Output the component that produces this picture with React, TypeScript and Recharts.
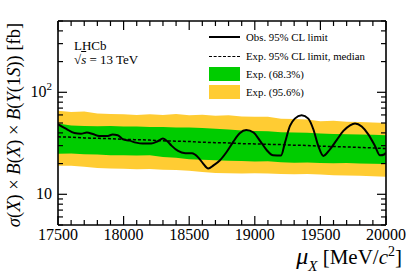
import React from 'react';
import { ComposedChart, Area, Line, XAxis, YAxis } from 'recharts';

const obsMass = [
  17500, 17560, 17625, 17675, 17720, 17765, 17815, 17880, 17915, 17955,
  17995, 18045, 18095, 18145, 18210, 18260, 18300, 18335, 18365, 18415,
  18470, 18520, 18570, 18605, 18645, 18685, 18735, 18785, 18835, 18885,
  18935, 18990, 19040, 19090, 19140, 19200, 19230, 19268, 19305, 19357,
  19408, 19446, 19484, 19522, 19573, 19624, 19675, 19726, 19764, 19815,
  19865, 19916, 19954, 19990, 20000,
];
const obsLimit = [
  48.6, 44.0, 39.8, 39.3, 40.3, 39.0, 37.3, 37.3, 38.5, 38.0,
  34.6, 33.6, 32.1, 31.4, 31.4, 33.1, 35.2, 33.0, 30.0, 26.6,
  25.3, 25.2, 22.9, 20.1, 17.9, 19.2, 21.6, 26.0, 32.6, 39.7,
  42.7, 40.3, 33.4, 27.2, 24.1, 24.0, 32.1, 46.8, 55.2, 59.5,
  55.2, 43.4, 29.8, 23.8, 27.6, 34.0, 41.8, 47.5, 49.4, 46.1,
  38.7, 29.8, 24.1, 24.7, 25.6,
];

// expected limit and its bands
const bandMass = [
  17500, 17600, 17700, 17800, 17900, 18000, 18100, 18200, 18300, 18400,
  18500, 18600, 18700, 18800, 18900, 19000, 19100, 19200, 19300, 19400,
  19500, 19600, 19700, 19800, 19900, 20000,
];
const expMedian = [
  36.6, 36.3, 35.7, 35.4, 35.1, 34.6, 34.3, 34.0, 33.4, 33.2,
  32.9, 32.4, 32.1, 31.9, 31.4, 31.2, 30.9, 30.7, 30.3, 30.1,
  29.6, 29.4, 29.1, 28.8, 28.5, 28.0,
];
const green68Lo = [
  25.0, 25.1, 24.7, 24.6, 24.2, 24.1, 24.0, 24.1, 23.2, 22.8,
  22.1, 21.8, 21.6, 21.3, 21.2, 21.0, 21.1, 20.6, 20.4, 20.5,
  20.3, 20.2, 20.3, 20.0, 19.9, 19.8,
];
const green68Hi = [
  49.5, 47.2, 46.8, 46.4, 46.7, 46.3, 46.1, 45.8, 45.6, 45.1,
  45.2, 44.6, 43.9, 43.2, 42.1, 41.8, 41.6, 40.5, 40.4, 40.1,
  39.4, 39.1, 38.8, 38.5, 38.3, 38.0,
];
const yellow95Lo = [
  19.0, 19.1, 18.6, 18.1, 17.9, 17.8, 17.6, 17.7, 17.4, 17.3,
  17.0, 16.5, 16.2, 16.1, 16.0, 16.1, 16.0, 15.8, 15.7, 15.8,
  15.6, 15.4, 15.3, 15.2, 15.0, 14.9,
];
const yellow95Hi = [
  66.0, 64.0, 65.0, 62.0, 61.2, 60.8, 60.0, 61.0, 60.0, 61.2,
  59.5, 60.1, 59.0, 59.6, 58.0, 57.5, 57.6, 55.0, 54.6, 54.0,
  52.0, 52.6, 51.5, 51.0, 50.6, 50.0,
];

const massTicks = [
  17500, 17600, 17700, 17800, 17900, 18000, 18100, 18200, 18300, 18400,
  18500, 18600, 18700, 18800, 18900, 19000, 19100, 19200, 19300, 19400,
  19500, 19600, 19700, 19800, 19900, 20000,
];
const massLabels = [17500, 18000, 18500, 19000, 19500, 20000];
const limitTicks = [5, 6, 7, 8, 9, 10, 20, 30, 40, 50, 60, 70, 80, 90, 100, 200, 300, 400, 500];

const obsData = obsMass.map((m, i) => ({ mass: m, obs: obsLimit[i] }));
const bandData = bandMass.map((m, i) => ({
  mass: m,
  median: expMedian[i],
  green: [green68Lo[i], green68Hi[i]],
  yellow: [yellow95Lo[i], yellow95Hi[i]],
}));

const serif = '"Liberation Serif", "Times New Roman", serif';
const GREEN = '#00cc00';
const YELLOW = '#ffcc33';

const BottomTick = (props: any) => {
  const { x, y, payload } = props;
  const major = massLabels.includes(payload.value);
  return (
    <g>
      <line x1={x} x2={x} y1={y} y2={y - (major ? 9 : 5)} stroke="#000" strokeWidth={1.2} />
      {major && (
        <text x={x} y={y + 15} textAnchor="middle" fontSize={16} fontFamily={serif} fill="#000">
          {payload.value}
        </text>
      )}
    </g>
  );
};

const TopTick = (props: any) => {
  const { x, y, payload } = props;
  const major = massLabels.includes(payload.value);
  return <line x1={x} x2={x} y1={y} y2={y + (major ? 9 : 5)} stroke="#000" strokeWidth={1.2} />;
};

const LeftTick = (props: any) => {
  const { x, y, payload } = props;
  const v = payload.value;
  const major = v === 10 || v === 100;
  return (
    <g>
      <line x1={x} x2={x + (major ? 9 : 5)} y1={y} y2={y} stroke="#000" strokeWidth={1.2} />
      {v === 10 && (
        <text x={x - 6} y={y + 5} textAnchor="end" fontSize={16} fontFamily={serif} fill="#000">10</text>
      )}
      {v === 100 && (
        <text x={x - 6} y={y + 5} textAnchor="end" fontSize={16} fontFamily={serif} fill="#000">
          10<tspan dy={-7} fontSize={11}>2</tspan>
        </text>
      )}
    </g>
  );
};

const RightTick = (props: any) => {
  const { x, y, payload } = props;
  const major = payload.value === 10 || payload.value === 100;
  return <line x1={x} x2={x - (major ? 9 : 5)} y1={y} y2={y} stroke="#000" strokeWidth={1.2} />;
};

const MassTitle = (props: any) => {
  const { viewBox } = props;
  const right = viewBox.x + viewBox.width + 16;
  const base = viewBox.y + 39;
  return (
    <text x={right} y={base} textAnchor="end" fontSize={21} fontFamily={serif} fill="#000">
      <tspan fontStyle="italic" fontSize={24}>μ</tspan>
      <tspan fontStyle="italic" fontSize={15} dy={7}>X</tspan>
      <tspan dy={-7}> [MeV/</tspan>
      <tspan fontStyle="italic">c</tspan>
      <tspan fontSize={14} dy={-8}>2</tspan>
      <tspan dy={8}>]</tspan>
    </text>
  );
};

const LimitTitle = (props: any) => {
  const { viewBox } = props;
  const cx = viewBox.x + 20;
  const cy = viewBox.y + viewBox.height / 2 + 2;
  return (
    <text
      x={cx}
      y={cy}
      transform={`rotate(-90, ${cx}, ${cy})`}
      textAnchor="middle"
      fontSize={18.5}
      fontFamily={serif}
      fill="#000"
    >
      <tspan fontStyle="italic">σ</tspan>(<tspan fontStyle="italic">X</tspan>) × <tspan fontStyle="italic">B</tspan>(
      <tspan fontStyle="italic">X</tspan>) × <tspan fontStyle="italic">B</tspan>(<tspan fontStyle="italic">Υ</tspan>(1
      <tspan fontStyle="italic">S</tspan>)) [fb]
    </text>
  );
};

const legendRow: React.CSSProperties = {
  position: 'absolute',
  left: 209,
  display: 'flex',
  alignItems: 'center',
  height: 14,
  fontFamily: serif,
  fontSize: 10.8,
  color: '#000',
  whiteSpace: 'nowrap',
};

export default function App() {
  return (
    <div style={{ position: 'relative', width: 407, height: 276, background: '#fff' }}>
      <style>{'body{margin:0}'}</style>
      <ComposedChart width={407} height={276} data={bandData} margin={{ top: 0, right: 0, bottom: 0, left: 0 }}>
        <XAxis
          xAxisId="bottom"
          dataKey="mass"
          type="number"
          domain={[17500, 20000]}
          ticks={massTicks}
          interval={0}
          height={51}
          tickSize={0}
          tickMargin={0}
          tick={<BottomTick />}
          axisLine={{ stroke: '#000', strokeWidth: 1.6 }}
          tickLine={false}
          allowDataOverflow
          label={<MassTitle />}
        />
        <XAxis
          xAxisId="top"
          orientation="top"
          type="number"
          dataKey="mass"
          domain={[17500, 20000]}
          ticks={massTicks}
          interval={0}
          height={21}
          tickSize={0}
          tickMargin={0}
          tick={<TopTick />}
          axisLine={{ stroke: '#000', strokeWidth: 1.6 }}
          tickLine={false}
          allowDataOverflow
        />
        <YAxis
          yAxisId="left"
          type="number"
          scale="log"
          domain={[5, 500]}
          ticks={limitTicks}
          interval={0}
          width={58}
          tickSize={0}
          tickMargin={0}
          tick={<LeftTick />}
          axisLine={{ stroke: '#000', strokeWidth: 1.6 }}
          tickLine={false}
          allowDataOverflow
          label={<LimitTitle />}
        />
        <YAxis
          yAxisId="right"
          orientation="right"
          type="number"
          scale="log"
          domain={[5, 500]}
          ticks={limitTicks}
          interval={0}
          width={21}
          tickSize={0}
          tickMargin={0}
          tick={<RightTick />}
          axisLine={{ stroke: '#000', strokeWidth: 1.6 }}
          tickLine={false}
          allowDataOverflow
        />
        <Area
          xAxisId="bottom"
          yAxisId="left"
          dataKey="yellow"
          type="linear"
          fill={YELLOW}
          fillOpacity={1}
          stroke="none"
          isAnimationActive={false}
        />
        <Area
          xAxisId="bottom"
          yAxisId="left"
          dataKey="green"
          type="linear"
          fill={GREEN}
          fillOpacity={1}
          stroke="none"
          isAnimationActive={false}
        />
        <Line
          xAxisId="bottom"
          yAxisId="left"
          dataKey="median"
          type="monotone"
          stroke="#000"
          strokeWidth={1.5}
          strokeDasharray="3 2"
          dot={false}
          isAnimationActive={false}
        />
        <Line
          xAxisId="bottom"
          yAxisId="left"
          data={obsData}
          dataKey="obs"
          type="monotone"
          stroke="#000"
          strokeWidth={2}
          dot={false}
          isAnimationActive={false}
        />
      </ComposedChart>

      <div style={{ position: 'absolute', left: 74, top: 39, fontFamily: serif, fontSize: 13, lineHeight: '14px' }}>
        <div>LHCb</div>
        <div>
          √<span style={{ fontStyle: 'italic', textDecoration: 'overline' }}>s</span> = 13 TeV
        </div>
      </div>

      <div style={{ ...legendRow, top: 30 }}>
        <span style={{ width: 31, height: 0, borderTop: '2px solid #000', marginRight: 6 }} />
        Obs. 95% CL limit
      </div>
      <div style={{ ...legendRow, top: 49 }}>
        <span style={{ width: 31, height: 0, borderTop: '1.5px dashed #000', marginRight: 6 }} />
        Exp. 95% CL limit, median
      </div>
      <div style={{ ...legendRow, top: 67 }}>
        <span style={{ width: 31, height: 14, background: GREEN, marginRight: 6 }} />
        Exp. (68.3%)
      </div>
      <div style={{ ...legendRow, top: 85 }}>
        <span style={{ width: 31, height: 14, background: YELLOW, marginRight: 6 }} />
        Exp. (95.6%)
      </div>
    </div>
  );
}
